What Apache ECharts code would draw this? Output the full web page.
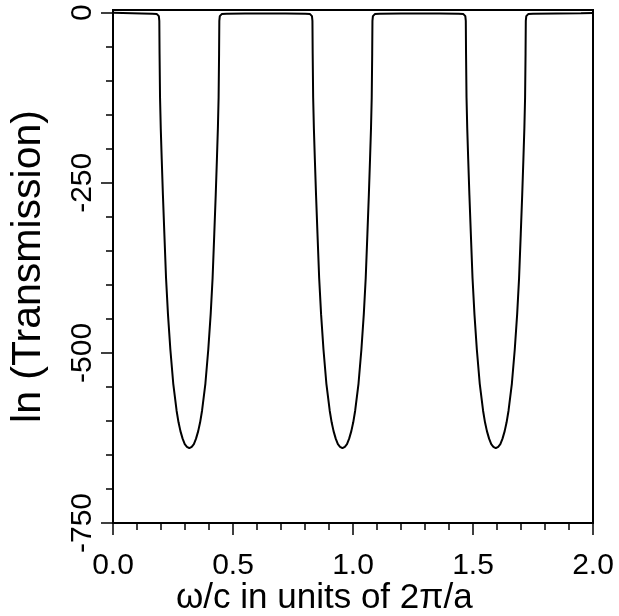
<!DOCTYPE html>
<html><head><meta charset="utf-8">
<script src="https://cdn.jsdelivr.net/npm/echarts@6/dist/echarts.min.js"></script>
<style>html,body{margin:0;padding:0;background:#fff}#c{width:619px;height:616px}</style>
</head><body><div id="c"></div>
<script>
// frequency omega/c in units of 2pi/a
var freq = [
 0.000,0.040,0.080,0.120,0.163,0.183,0.188,0.191,0.193,0.194,0.196,0.199,0.203,0.208,0.214,0.221,0.229,0.239,0.251,0.265,0.273,0.281,0.290,0.299,0.308,0.318,
 0.328,0.337,0.346,0.355,0.363,0.371,0.385,0.397,0.407,0.415,0.422,0.428,0.433,0.437,0.440,0.442,0.443,0.445,0.448,0.453,0.473,
 0.550,0.637,0.720,0.801,0.821,0.826,0.829,0.831,0.832,0.834,0.837,0.841,0.846,0.852,0.859,0.867,0.877,0.889,0.903,0.911,0.919,0.928,0.937,0.946,0.956,
 0.966,0.975,0.984,0.993,1.001,1.009,1.023,1.035,1.045,1.053,1.060,1.066,1.071,1.075,1.078,1.080,1.081,1.083,1.086,1.091,1.111,
 1.200,1.275,1.360,1.440,1.460,1.465,1.468,1.470,1.471,1.473,1.476,1.480,1.485,1.491,1.498,1.506,1.516,1.528,1.542,1.550,1.558,1.567,1.576,1.585,1.595,
 1.605,1.614,1.623,1.632,1.640,1.648,1.662,1.674,1.684,1.692,1.699,1.705,1.710,1.714,1.717,1.719,1.720,1.722,1.725,1.730,1.750,1.850,1.950,2.000
];
// ln(Transmission)
var lnT = [
 0,-0.3,-0.6,-1,-1.5,-2,-3,-5,-12,-60,-125,-170,-215,-268,-325,-390,-443,-495,-545,-585,-602,-615,-626,-634,-638,-640,
 -638,-634,-626,-615,-602,-585,-545,-495,-443,-390,-325,-268,-215,-170,-125,-60,-12,-5,-3,-2,-1.5,
 -1,-1,-1,-1.5,-2,-3,-5,-12,-60,-125,-170,-215,-268,-325,-390,-443,-495,-545,-585,-602,-615,-626,-634,-638,-640,
 -638,-634,-626,-615,-602,-585,-545,-495,-443,-390,-325,-268,-215,-170,-125,-60,-12,-5,-3,-2,-1.5,
 -1,-1,-1,-1.5,-2,-3,-5,-12,-60,-125,-170,-215,-268,-325,-390,-443,-495,-545,-585,-602,-615,-626,-634,-638,-640,
 -638,-634,-626,-615,-602,-585,-545,-495,-443,-390,-325,-268,-215,-170,-125,-60,-12,-5,-3,-2,-1.5,-1,-0.8,-0.5
];
var yMajor = [-750,-500,-250,0];
var yMinor = [-700,-650,-600,-550,-450,-400,-350,-300,-200,-150,-100,-50];
var xTitle = 'ω/c in units of 2π/a';
var yTitle = 'ln (Transmission)';

var data = freq.map(function(f,i){return [f,lnT[i]];});
var font = '"Liberation Sans", Arial, sans-serif';
var chart = echarts.init(document.getElementById('c'), null, {renderer:'canvas'});
chart.setOption({
  animation:false,
  title:{text:xTitle, left:171, top:576, textStyle:{fontFamily:font,fontSize:35,fontWeight:'normal',color:'#000'}},
  grid:{left:113,right:26,top:10,bottom:93,show:true,borderColor:'#000',borderWidth:2,backgroundColor:'transparent',outerBoundsMode:'none',containLabel:false},
  xAxis:{type:'value',min:0,max:2,interval:0.5,
    axisLine:{show:true,onZero:false,lineStyle:{color:'#000',width:2}},
    axisTick:{show:true,length:12,lineStyle:{color:'#000',width:1.5}},
    minorTick:{show:true,splitNumber:5,length:7,lineStyle:{color:'#000',width:1.5}},
    axisLabel:{fontFamily:font,fontSize:30,color:'#000',margin:28,formatter:function(v){return v.toFixed(1);}},
    splitLine:{show:false}},
  yAxis:[{type:'value',min:-750,max:4,
    name:yTitle,nameLocation:'middle',nameRotate:90,nameGap:64,
    nameTextStyle:{fontFamily:font,fontSize:41,color:'#000'},
    axisLine:{show:true,onZero:false,lineStyle:{color:'#000',width:2}},
    axisTick:{show:true,length:12,customValues:yMajor,lineStyle:{color:'#000',width:1.5}},
    axisLabel:{fontFamily:font,fontSize:30,color:'#000',rotate:90,margin:15,customValues:yMajor},
    splitLine:{show:false}},
   {type:'value',min:-750,max:4,position:'left',
    axisLine:{show:false,onZero:false},
    axisTick:{show:true,length:7,customValues:yMinor,lineStyle:{color:'#000',width:1.5}},
    axisLabel:{show:false},
    splitLine:{show:false}}],
  series:[{type:'line',data:data,showSymbol:false,smooth:false,
    lineStyle:{color:'#000',width:2},itemStyle:{color:'#000'}}]
});
</script></body></html>
